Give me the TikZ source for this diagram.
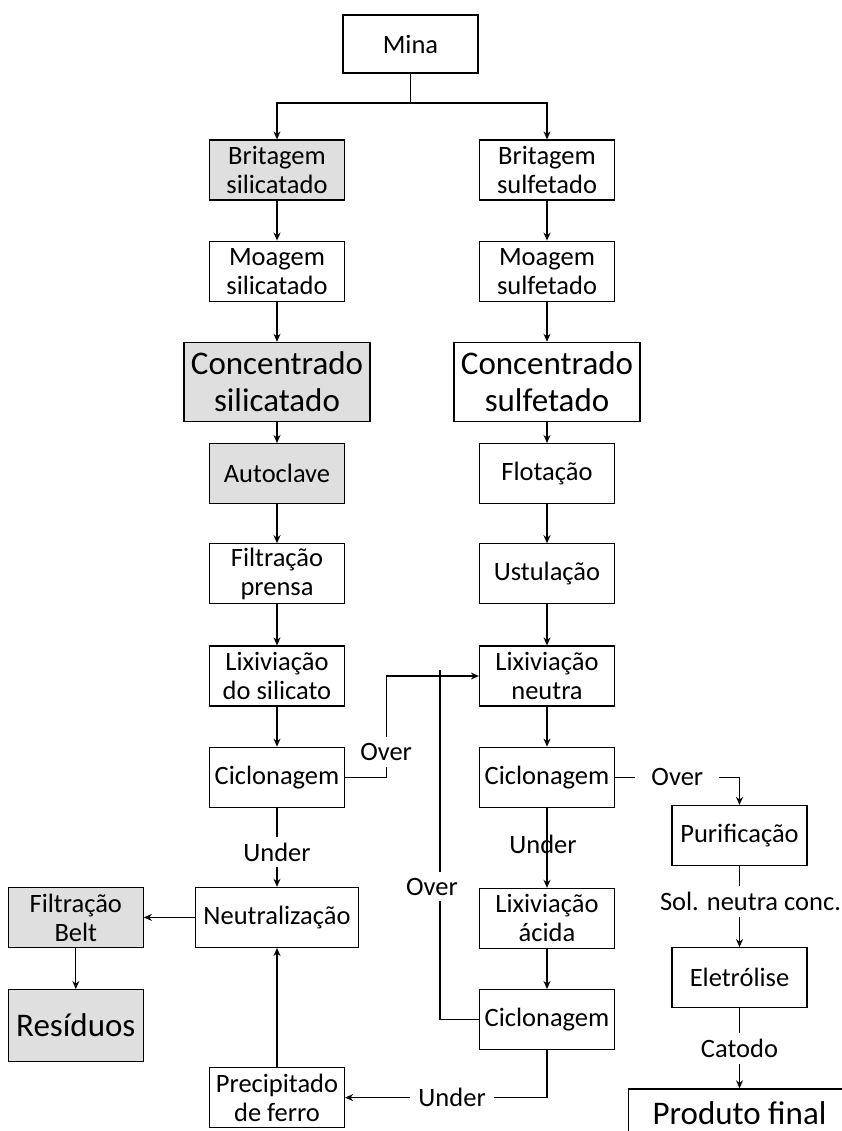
\documentclass[tikz,border=0pt]{standalone}
\usepackage{fontspec}
\setmainfont{Carlito}
\usetikzlibrary{positioning,arrows.meta}
\tikzset{
  flow/.style={>={Stealth[open,length=8pt,width=7pt]},
    line width=1.2pt,
    node distance=40pt},
  stage/.style={draw,line width=1.2pt,minimum width=135pt,minimum height=60pt,
    align=center,inner sep=2pt,font=\fontsize{26.5}{29}\selectfont},
  shaded/.style={stage,fill=gray!25},
  bigstage/.style={stage,minimum width=186pt,minimum height=79pt,
    font=\fontsize{33}{37}\selectfont},
  lbl/.style={fill=white,inner xsep=8pt,inner ysep=6pt,
    font=\fontsize{26.5}{29}\selectfont}
}
\begin{document}
\begin{tikzpicture}[x=1pt,y=-1pt,flow]
  \useasboundingbox (0,0) rectangle (842,1131);
  \node[stage,minimum height=58pt] (mina) at (410.5,44) {Mina};
  \coordinate (split) at (410.5,103);
  % silicatado
  \node[shaded] (brit1) at (277,170) {Britagem\\silicatado};
  \node[stage] (moag1) [below=of brit1] {Moagem\\silicatado};
  \node[bigstage,fill=gray!25] (conc1) [below=of moag1] {Concentrado\\silicatado};
  \node[shaded] (auto) [below=21pt of conc1] {Autoclave};
  \node[stage] (filtp) [below=39pt of auto] {Filtração\\prensa};
  \node[stage] (lixs) [below=41pt of filtp] {Lixiviação\\do silicato};
  \node[stage] (cicl1) [below=of lixs] {Ciclonagem};
  \node[stage,minimum width=163pt] (neutr) [below=79pt of cicl1] {Neutralização};
  \node[stage] (prec) [below=119pt of neutr] {Precipitado\\de ferro};
  \node[shaded] (filtb) [left=51pt of neutr] {Filtração\\Belt};
  \node[bigstage,fill=gray!25,minimum width=135pt,minimum height=72pt] (resid) [below=41pt of filtb] {Resíduos};
  % sulfetado
  \node[stage] (brit2) at (547,170) {Britagem\\sulfetado};
  \node[stage] (moag2) [below=of brit2] {Moagem\\sulfetado};
  \node[bigstage] (conc2) [below=of moag2] {Concentrado\\sulfetado};
  \node[stage] (flot) [below=21pt of conc2] {Flotação};
  \node[stage] (ust) [below=39pt of flot] {Ustulação};
  \node[stage] (lixn) [below=41pt of ust] {Lixiviação\\neutra};
  \node[stage] (cicl2) [below=of lixn] {Ciclonagem};
  \node[stage] (lixa) [below=80pt of cicl2] {Lixiviação\\ácida};
  \node[stage] (cicl3) [below=of lixa] {Ciclonagem};
  % eletrolise
  \node[stage] (puri) at (739.5,835.5) {Purificação};
  \node[stage] (eletro) [below=81pt of puri] {Eletrólise};
  \node[bigstage,minimum width=222pt,minimum height=48pt,inner sep=0pt] (prod) [below=80pt of eletro] {Produto final};
  \coordinate (merge) at (440,670);

  \draw (mina) -- (split);
  \draw[->] (split) -| (brit1);
  \draw[->] (split) -| (brit2);
  \foreach \a/\b in {brit1/moag1,moag1/conc1,conc1/auto,auto/filtp,filtp/lixs,lixs/cicl1,
      brit2/moag2,moag2/conc2,conc2/flot,flot/ust,ust/lixn,lixn/cicl2,lixa/cicl3,
      prec/neutr,neutr/filtb,filtb/resid}
    \draw[->] (\a) -- (\b);
  \draw[->] (cicl1) -- node[lbl,pos=0.56] {Under} (neutr);
  \draw[->] (cicl1.east) -- ++(41pt,0) |- node[lbl,pos=0.125] {Over} (lixn.west);
  \draw (cicl3.west) -| node[lbl,pos=0.69,xshift=-8pt] {Over} (merge);
  \draw[->] (cicl2.east) -| node[lbl,pos=0.25,inner xsep=16pt] {Over} (puri.north);
  \draw[->] (cicl2) -- node[lbl,fill=none,pos=0.46,xshift=-4pt] {Under} (lixa);
  \draw[->] (cicl3.south) |- node[lbl,pos=0.735] {Under} (prec.east);
  \draw[->] (puri) -- node[lbl,pos=0.44,xshift=11pt] {Sol. neutra conc.} (eletro);
  \draw[->] (eletro) -- node[lbl,pos=0.5] {Catodo} (prod);
\end{tikzpicture}
\end{document}
